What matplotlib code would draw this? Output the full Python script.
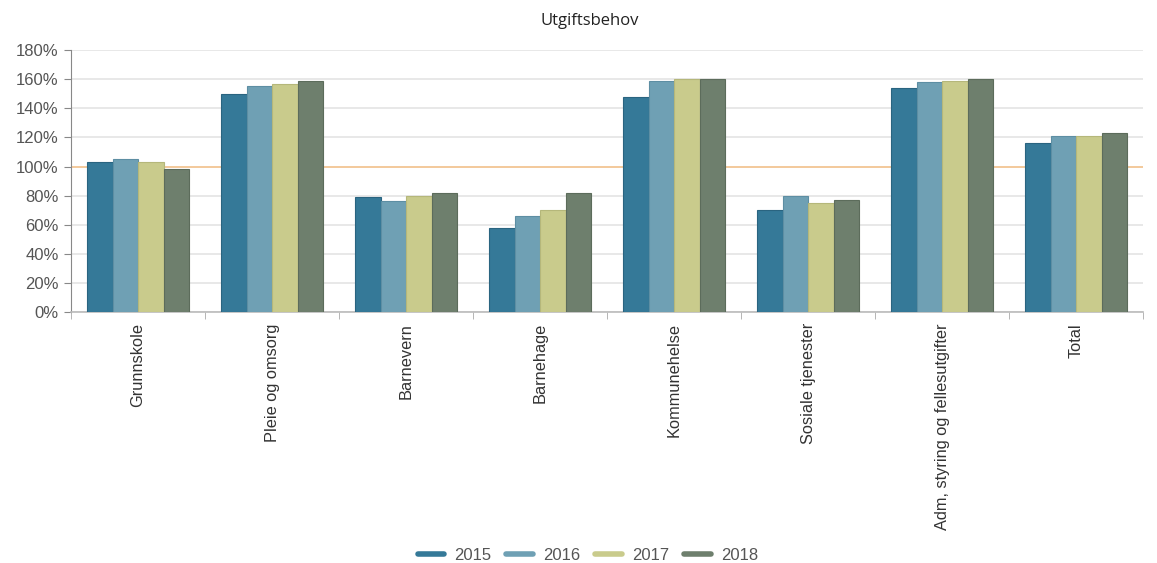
import numpy as np
import matplotlib.pyplot as plt
from matplotlib.lines import Line2D
from matplotlib.ticker import PercentFormatter

plt.rcParams['font.family'] = ['Liberation Sans', 'DejaVu Sans']

# data
kategorier = ["Grunnskole", "Pleie og omsorg", "Barnevern", "Barnehage",
              "Kommunehelse", "Sosiale tjenester",
              "Adm, styring og fellesutgifter", "Total"]
aar = ["2015", "2016", "2017", "2018"]
v2015 = [103, 150, 79, 58, 148, 70, 154, 116]
v2016 = [105, 155, 76, 66, 159, 80, 158, 121]
v2017 = [103, 157, 80, 70, 160, 75, 159, 121]
v2018 = [98, 159, 82, 82, 160, 77, 160, 123]
farger = ["#357998", "#6fa0b4", "#c9cb8c", "#6e7f6d"]
kanter = ["#2a6480", "#5d8ea3", "#b5b77a", "#5c6c5b"]

serier = [v2015, v2016, v2017, v2018]

fig = plt.figure(figsize=(11.57, 5.63), dpi=100)
ax = fig.add_axes([0.0614, 0.4458, 0.9266, 0.4652])

x = np.arange(len(kategorier))
bredde = 0.19
for i, verdier in enumerate(serier):
    ax.bar(x + (i - 1.5) * bredde, verdier, bredde, color=farger[i],
           edgecolor=kanter[i], linewidth=0.8, zorder=3)

# referanselinje på 100 %
ax.axhline(100, color="#f6c48f", linewidth=1.2, zorder=2)

ax.set_ylim(0, 180)
ax.set_xlim(-0.5, len(kategorier) - 0.5)
ax.set_yticks(np.arange(0, 181, 20))
ax.yaxis.set_major_formatter(PercentFormatter(decimals=0))
ax.grid(axis="y", color="#e4e4e4", linewidth=1.2, zorder=0)

ax.set_xticks(x)
ax.set_xticklabels(kategorier, rotation=90, fontsize=11.8, color="#333333")
ax.set_xticks(np.arange(-0.5, len(kategorier) + 0.5, 1), minor=True)
ax.tick_params(axis="x", which="major", length=0, pad=8)
ax.tick_params(axis="x", which="minor", length=5, color="#aaaaaa")
ax.tick_params(axis="y", length=5, color="#888888", labelsize=12,
               labelcolor="#555555", pad=4)

for s in ["top", "right"]:
    ax.spines[s].set_visible(False)
ax.spines["left"].set_color("#888888")
ax.spines["bottom"].set_color("#bbbbbb")
ax.spines["bottom"].set_linewidth(1.2)

fig.text(0.51, 0.963, "Utgiftsbehov", ha="center", va="center",
         fontsize=12, color="#222222", family="Open Sans")

handles = [Line2D([], [], color=f, linewidth=4, solid_capstyle="round")
           for f in farger]
fig.legend(handles, aar, loc="center", bbox_to_anchor=(0.508, 0.014), ncol=4,
           frameon=False, fontsize=12, handlelength=1.6,
           columnspacing=0.9, handletextpad=0.6, labelcolor="#555555")

fig.savefig("out.png", dpi=100)
